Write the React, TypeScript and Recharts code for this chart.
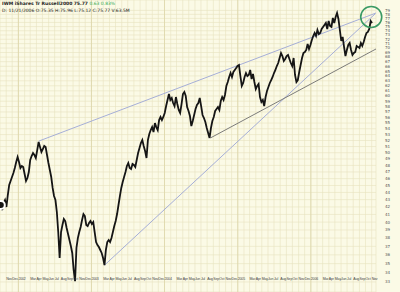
import {
  ComposedChart,
  Line,
  XAxis,
  YAxis,
  CartesianGrid,
  ReferenceLine,
  ReferenceDot,
} from 'recharts';

// weekly closes, first week ends Fri 5 Oct 2001
const firstWeek = Date.UTC(2001, 9, 5);
const WEEK = 7 * 86400000;

const closes = [
  42.26, 41.58, 42.53, 42.94, 41.99, 43.64, 45.07, 45.65, 46.24, 46.84,
  47.6, 48.53, 49.31, 48.53, 47.6, 47.91, 47.75, 46.69, 45.65, 46.09,
  46.99, 48.84, 49.47, 49.95, 49.63, 49.15, 50.43, 51.75, 50.92, 50.11,
  50.59, 51.09, 50.92, 49.63, 48.37, 47.29, 46.24, 44.64, 43.5, 42.94,
  41.32, 38.74, 35.64, 38.74, 39.63, 40.4, 40.14, 39.25, 38.49, 37.76,
  37.04, 36.22, 34.29, 33.09, 36.81, 38.0, 38.74, 39.37, 40.27, 41.05,
  40.79, 39.63, 39.5, 39.89, 40.14, 39.76, 40.01, 38.74, 37.52, 37.16,
  36.92, 36.57, 36.22, 35.64, 34.84, 36.57, 37.52, 37.76, 37.52, 38.0,
  38.74, 39.5, 40.14, 41.05, 42.26, 43.5, 44.64, 45.51, 46.24, 46.99,
  47.91, 48.37, 47.6, 47.44, 48.22, 48.06, 47.75, 48.84, 49.95, 50.76,
  51.58, 52.08, 51.09, 50.27, 49.15, 52.08, 53.09, 53.78, 54.3, 53.44,
  55.0, 54.3, 53.78, 55.54, 56.08, 55.54, 56.08, 56.81, 58.09, 59.23,
  60.38, 59.23, 59.61, 58.66, 58.09, 59.8, 58.47, 57.36, 56.81, 58.47,
  60.38, 60.77, 60.0, 57.9, 57.18, 56.26, 54.48, 55.36, 56.44, 57.54,
  58.28, 58.66, 59.61, 58.09, 56.44, 55.9, 55.18, 54.13, 53.26, 52.42,
  54.13, 55.36, 56.08, 57.18, 57.54, 57.9, 57.36, 59.04, 59.8, 59.23,
  60.19, 61.96, 62.76, 63.78, 64.6, 63.78, 64.81, 65.23, 65.65, 66.07,
  66.28, 63.98, 61.96, 62.56, 63.78, 64.6, 63.98, 64.19, 65.23, 63.37,
  64.4, 62.76, 61.36, 61.96, 62.36, 59.8, 58.85, 59.23, 58.09, 59.8,
  60.96, 61.76, 62.56, 63.16, 63.78, 64.6, 65.23, 66.07, 66.71, 67.8,
  68.89, 68.23, 67.14, 67.58, 68.23, 68.45, 67.58, 66.71, 66.07, 67.8,
  64.19, 62.76, 63.16, 64.81, 66.28, 67.8, 68.89, 69.11, 69.56, 70.92,
  69.79, 70.69, 71.83, 72.76, 73.47, 72.76, 74.18, 73.24, 73.47, 74.42,
  74.9, 75.38, 75.87, 74.42, 76.35, 75.14, 74.9, 77.1, 75.87, 77.35,
  78.35, 76.85, 74.18, 71.6, 72.53, 70.26, 68.23, 69.56, 70.69, 71.15,
  69.56, 68.45, 68.89, 69.11, 70.47, 70.26, 70.03, 71.15, 70.47, 71.37,
  72.53, 73.47, 73.71, 74.42, 76.35, 75.87,
];

// '' = gridline only, the label is dropped where it would collide with the year
const monthLabels = [
  'Nov', 'Dec',
  '2002', '', 'Mar', 'Apr', 'May', 'Jun', 'Jul', 'Aug', 'Sep', 'Oct', 'Nov', 'Dec',
  '2003', '', 'Mar', 'Apr', 'May', 'Jun', 'Jul', 'Aug', 'Sep', 'Oct', 'Nov', 'Dec',
  '2004', '', 'Mar', 'Apr', 'May', 'Jun', 'Jul', 'Aug', 'Sep', 'Oct', 'Nov', 'Dec',
  '2005', '', 'Mar', 'Apr', 'May', 'Jun', 'Jul', 'Aug', 'Sep', 'Oct', 'Nov', 'Dec',
  '2006', '', 'Mar', 'Apr', 'May', 'Jun', 'Jul', 'Aug', 'Sep', 'Oct', 'Nov',
];

const priceTicks = [
  33, 34, 35, 36, 37, 38, 39, 40, 41, 42, 43, 44, 45, 46, 47, 48, 49, 50,
  51, 52, 53, 54, 55, 56, 57, 58, 59, 60, 61, 62, 63, 64, 65, 66, 67, 68, 69,
  70, 71, 72, 73, 74, 75, 76, 77, 78, 79,
];

// trend lines drawn on the chart: [week, price] at each end
const trendLines = [
  { from: [27.1, 51.9], to: [267.8, 78.35], color: '#9ca6d6' },
  { from: [74.1, 34.84], to: [267.1, 78.1], color: '#9ca6d6' },
  { from: [149.6, 52.42], to: [267.8, 69.79], color: '#6e6e6e' },
];

const circleAt = { week: 264.4, price: 77.35 };

const data = closes.map((c, i) => ({ week: i, close: c }));

// month starts as week positions (line up with weekly closes)
const monthWeeks = monthLabels.map((_, i) => (Date.UTC(2001, 10 + i, 1) - firstWeek) / WEEK);
const yearWeeks = monthWeeks.filter((_, i) => /^\d{4}$/.test(monthLabels[i]));

const labelFor = (v: number) => {
  const i = monthWeeks.findIndex((w) => Math.abs(w - v) < 0.01);
  return i >= 0 ? monthLabels[i] : '';
};

export default function App() {
  return (
    <div style={{ position: 'absolute', left: 0, top: 0, width: 400, height: 292, background: '#fbfae6' }}>
      <ComposedChart width={400} height={292} data={data} margin={{ top: 0, right: 12, bottom: 0, left: 0 }}>
        <CartesianGrid stroke="#e7e3bf" strokeWidth={0.6} fill="#fbfae6" />
        <XAxis
          dataKey="week"
          type="number"
          domain={[-0.57, 267.8]}
          ticks={monthWeeks}
          tickFormatter={labelFor}
          tick={{ fontSize: 3.5, fill: '#444', fontFamily: 'Liberation Sans', textAnchor: 'start', letterSpacing: -0.15 }}
          tickLine={false}
          axisLine={false}
          mirror
          tickMargin={6}
          height={1}
          interval={0}
          allowDataOverflow
        />
        <YAxis
          orientation="right"
          scale="log"
          domain={[31.95, 81.69]}
          ticks={priceTicks}
          interval={0}
          allowDataOverflow
          width={12}
          tickLine={false}
          axisLine={false}
          tickMargin={3}
          tick={{ fontSize: 4, fill: '#555', fontFamily: 'DejaVu Sans' }}
        />
        {yearWeeks.map((w) => (
          <ReferenceLine key={w} x={w} stroke="#dcd6a8" strokeWidth={0.8} />
        ))}
        {trendLines.map((t, i) => (
          <ReferenceLine
            key={i}
            segment={[
              { x: t.from[0], y: t.from[1] },
              { x: t.to[0], y: t.to[1] },
            ]}
            stroke={t.color}
            strokeWidth={0.9}
            ifOverflow="visible"
          />
        ))}
        <Line
          type="linear"
          dataKey="close"
          stroke="#151515"
          strokeWidth={1.8}
          dot={false}
          isAnimationActive={false}
        />
        <ReferenceDot
          x={circleAt.week}
          y={circleAt.price}
          r={10.5}
          fill="none"
          stroke="#3a9a64"
          strokeWidth={1.6}
          ifOverflow="visible"
        />
      </ComposedChart>
      <div style={{ position: 'absolute', left: 2, top: 1, fontFamily: 'DejaVu Sans', fontSize: 4.5, lineHeight: '5px', color: '#222' }}>
        <div>
          <b>IWM iShares Tr Russell2000</b> <b>75.77</b>{' '}
          <span style={{ color: '#2fa84f' }}>0.63 0.83%</span>
        </div>
        <div style={{ marginTop: 2 }}>D: 11/21/2006 O:75.35 H:75.96 L:75.12 C:75.77 V:63.5M</div>
      </div>
    </div>
  );
}
